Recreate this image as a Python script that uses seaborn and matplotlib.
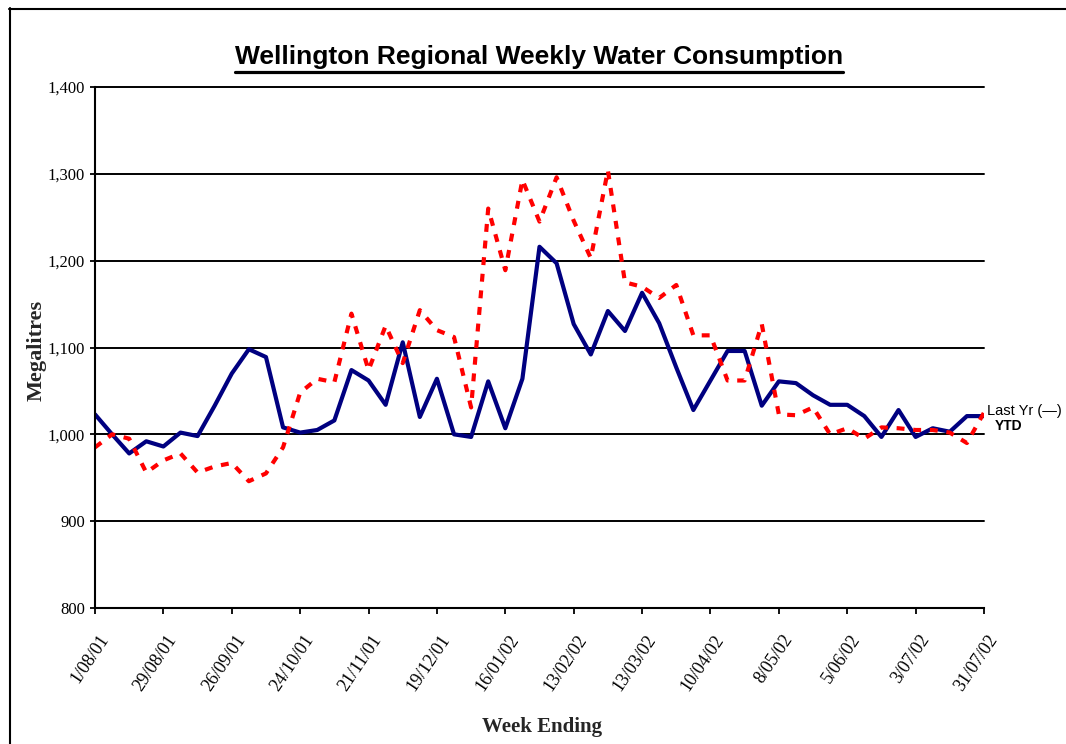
import matplotlib
matplotlib.use("Agg")
import matplotlib.pyplot as plt
import matplotlib.transforms as mtransforms
from matplotlib.lines import Line2D
from matplotlib.ticker import StrMethodFormatter
import numpy as np
import pandas as pd
import seaborn as sns

# ---------------- data ----------------
week_index = list(range(53))  # weekly, 1/08/01 .. 31/07/02
tick_positions = list(range(0, 53, 4))
tick_labels = ["1/08/01", "29/08/01", "26/09/01", "24/10/01", "21/11/01",
               "19/12/01", "16/01/02", "13/02/02", "13/03/02", "10/04/02",
               "8/05/02", "5/06/02", "3/07/02", "31/07/02"]

ytd = [1023, 1000, 978, 992, 986, 1002, 998, 1033, 1070, 1098, 1089, 1008,
       1002, 1005, 1016, 1074, 1062, 1034, 1106, 1020, 1064, 1000, 997, 1061,
       1007, 1064, 1216, 1197, 1127, 1092, 1142, 1119, 1163, 1128, 1077, 1028,
       1062, 1096, 1096, 1033, 1061, 1059, 1045, 1034, 1034, 1021, 997, 1028,
       997, 1007, 1003, 1021, 1021]

last_yr = [985, 1000, 995, 956, 970, 978, 956, 963, 967, 946, 955, 985,
           1048, 1064, 1060, 1139, 1074, 1125, 1082, 1143, 1120, 1112, 1031, 1260,
           1189, 1293, 1245, 1296, 1246, 1203, 1304, 1175, 1170, 1157, 1172, 1114,
           1114, 1062, 1062, 1127, 1023, 1022, 1031, 1000, 1007, 995, 1008, 1007,
           1005, 1005, 1002, 990, 1025]

y_ticks = [800, 900, 1000, 1100, 1200, 1300, 1400]

df = pd.DataFrame({
    "week": week_index * 2,
    "ML": ytd + last_yr,
    "series": ["YTD"] * len(ytd) + ["Last Yr"] * len(last_yr),
})

# ---------------- style ----------------
sns.set_theme(style="white")
plt.rcParams["font.family"] = ["Liberation Serif", "DejaVu Serif"]

W, H = 1066, 744
fig = plt.figure(figsize=(W / 100, H / 100), dpi=100)
fig.patch.set_facecolor("white")


def fx(px):
    return px / W


def fy(py):
    return 1 - py / H


ax = fig.add_axes([fx(95), fy(608), fx(984) - fx(95), fy(87) - fy(608)])
ax.set_facecolor("white")

sns.lineplot(data=df, x="week", y="ML", hue="series", style="series",
             hue_order=["YTD", "Last Yr"], style_order=["YTD", "Last Yr"],
             palette={"YTD": "#000080", "Last Yr": "#FF0000"},
             dashes={"YTD": "", "Last Yr": (1.9, 2.1)},
             linewidth=3.0, legend=False, ax=ax)

ax.set_xlim(0, 52)
ax.set_ylim(800, 1400)
ax.set_yticks(y_ticks)
ax.yaxis.set_major_formatter(StrMethodFormatter("{x:,.0f}"))
ax.set_xticks(tick_positions)
ax.set_xticklabels(tick_labels, rotation=56, ha="right", va="center",
                   rotation_mode="anchor")
ax.set_xlabel("")
ax.set_ylabel("")

ax.yaxis.grid(True, color="black", linewidth=1.4)
ax.xaxis.grid(False)
for gl in ax.get_ygridlines():
    gl.set_clip_on(False)
for s in ["top", "right"]:
    ax.spines[s].set_visible(False)
for s in ["left", "bottom"]:
    ax.spines[s].set_color("black")
    ax.spines[s].set_linewidth(1.5)

ax.tick_params(axis="y", which="major", direction="out", length=3.6, width=1.3,
               color="black", labelsize=12, labelcolor="black", pad=3.5, left=True)
ax.tick_params(axis="x", which="major", direction="out", length=4.3, width=1.3,
               color="black", labelsize=13, labelcolor="black", pad=16, bottom=True)

offset = mtransforms.ScaledTranslation(10 / 100, 0, fig.dpi_scale_trans)
for lab in ax.get_xticklabels():
    lab.set_transform(lab.get_transform() + offset)

# axis titles
fig.text(fx(37), fy(350), "Megalitres", rotation=90, ha="center", va="center",
         fontsize=16, fontweight="bold", family=["Liberation Serif", "DejaVu Serif"])
fig.text(fx(542), fy(732), "Week Ending", ha="center", va="baseline",
         fontsize=15, fontweight="bold", family=["Liberation Serif", "DejaVu Serif"])

# chart title with underline
title = fig.text(fx(539), fy(64), "Wellington Regional Weekly Water Consumption",
                 ha="center", va="baseline", fontsize=19, fontweight="bold",
                 family=["Liberation Sans", "DejaVu Sans"], color="black")

# series labels at the right end
fig.text(fx(987), fy(415), "Last Yr (\u2014)", ha="left", va="baseline",
         fontsize=10.5, family=["Liberation Sans", "DejaVu Sans"], color="black")
fig.text(fx(995), fy(430), "YTD", ha="left", va="baseline", fontsize=10,
         fontweight="bold", family=["Liberation Sans", "DejaVu Sans"], color="black")

# figure frame (top and left edges)
fig.add_artist(Line2D([fx(9), fx(1066)], [fy(8.5), fy(8.5)], color="black",
                      linewidth=1.5, transform=fig.transFigure))
fig.add_artist(Line2D([fx(9.5), fx(9.5)], [fy(8), fy(744)], color="black",
                      linewidth=1.5, transform=fig.transFigure))

fig.canvas.draw()
bb = title.get_window_extent(renderer=fig.canvas.get_renderer())
bbf = bb.transformed(fig.transFigure.inverted())
fig.add_artist(Line2D([bbf.x0, bbf.x1], [fy(72), fy(72)], color="black",
                      linewidth=2.3, transform=fig.transFigure))

fig.savefig("out.png", dpi=100, facecolor="white")
